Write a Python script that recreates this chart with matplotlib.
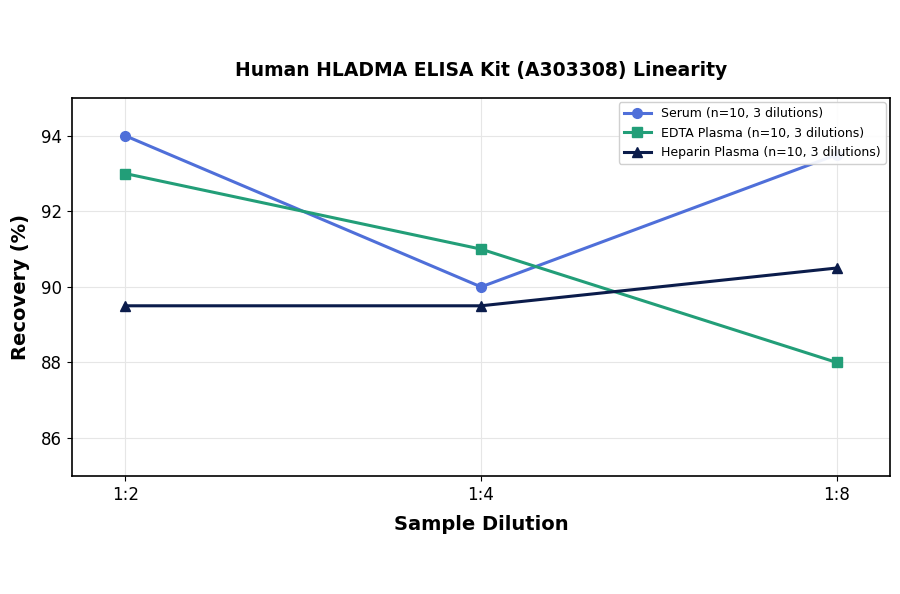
import numpy as np
import matplotlib
matplotlib.use('Agg')
import matplotlib.pyplot as plt

dilutions = ['1:2', '1:4', '1:8']
serum = [94.0, 90.0, 93.5]
edta = [93.0, 91.0, 88.0]
heparin = [89.5, 89.5, 90.5]

x = np.arange(len(dilutions))

fig = plt.figure(figsize=(9, 5.94), dpi=100)
ax = fig.add_axes([0.08, 0.199, 0.909, 0.636])

ax.plot(x, serum, color='#4f6fd9', marker='o', lw=2.2, ms=7, label='Serum (n=10, 3 dilutions)')
ax.plot(x, edta, color='#229e78', marker='s', lw=2.2, ms=7, label='EDTA Plasma (n=10, 3 dilutions)')
ax.plot(x, heparin, color='#0b1c4b', marker='^', lw=2.2, ms=7, label='Heparin Plasma (n=10, 3 dilutions)')

ax.set_xticks(x)
ax.set_xticklabels(dilutions, fontsize=12)
ax.tick_params(axis='y', labelsize=12)
ax.set_xlim(-0.15, 2.15)
ax.set_ylim(85, 95)
ax.set_yticks([86, 88, 90, 92, 94])
ax.grid(True, color='#e6e6e6', lw=0.8)
ax.set_axisbelow(True)
for s in ax.spines.values():
    s.set_linewidth(1.2)

ax.set_xlabel('Sample Dilution', fontsize=14, fontweight='bold', labelpad=8)
ax.set_ylabel('Recovery (%)', fontsize=14, fontweight='bold', labelpad=8)
ax.set_title('Human HLADMA ELISA Kit (A303308) Linearity', fontsize=13.5, fontweight='bold', pad=16)
ax.legend(loc='upper right', fontsize=9, borderaxespad=0.35, handlelength=2.2, framealpha=0.92)

fig.savefig('out.png', dpi=100)
